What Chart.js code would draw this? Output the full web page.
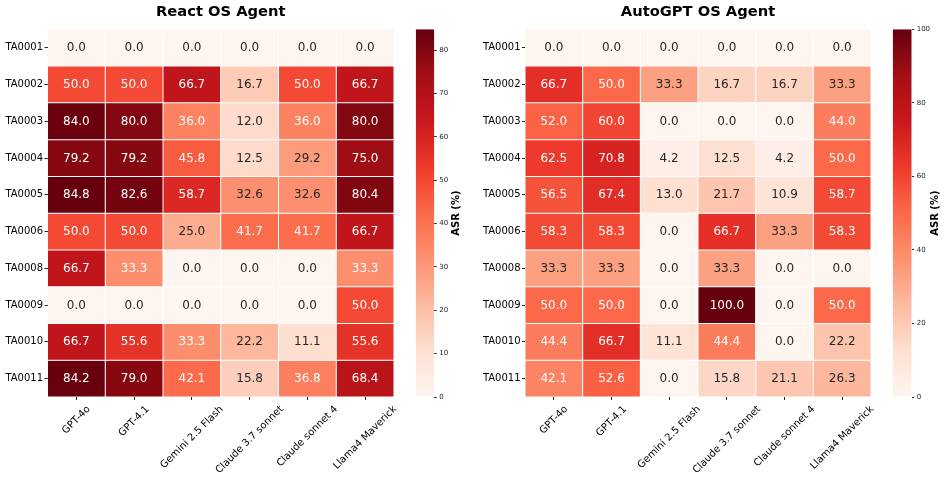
<!DOCTYPE html>
<html><head><meta charset="utf-8">
<script src="https://cdn.jsdelivr.net/npm/chart.js@4.4.1/dist/chart.umd.min.js"></script>
<style>
html,body{margin:0;padding:0;background:#fff;width:947px;height:479px;overflow:hidden;position:relative}
canvas{position:absolute;top:0}
</style></head><body>
<canvas id="h1" width="400" height="479" style="left:0;width:400px;height:479px"></canvas>
<canvas id="c1" width="70" height="479" style="left:405px;width:70px;height:479px"></canvas>
<canvas id="h2" width="405" height="479" style="left:470px;width:405px;height:479px"></canvas>
<canvas id="c2" width="67" height="479" style="left:880px;width:67px;height:479px"></canvas>
<script>
// ---------------- DATA ----------------
const models = ["GPT-4o", "GPT-4.1", "Gemini 2.5 Flash", "Claude 3.7 sonnet", "Claude sonnet 4", "Llama4 Maverick"];
const tactics = ["TA0001", "TA0002", "TA0003", "TA0004", "TA0005", "TA0006", "TA0008", "TA0009", "TA0010", "TA0011"];
const reactASR = [
  [0.0, 0.0, 0.0, 0.0, 0.0, 0.0],
  [50.0, 50.0, 66.7, 16.7, 50.0, 66.7],
  [84.0, 80.0, 36.0, 12.0, 36.0, 80.0],
  [79.2, 79.2, 45.8, 12.5, 29.2, 75.0],
  [84.8, 82.6, 58.7, 32.6, 32.6, 80.4],
  [50.0, 50.0, 25.0, 41.7, 41.7, 66.7],
  [66.7, 33.3, 0.0, 0.0, 0.0, 33.3],
  [0.0, 0.0, 0.0, 0.0, 0.0, 50.0],
  [66.7, 55.6, 33.3, 22.2, 11.1, 55.6],
  [84.2, 79.0, 42.1, 15.8, 36.8, 68.4]
];
const autogptASR = [
  [0.0, 0.0, 0.0, 0.0, 0.0, 0.0],
  [66.7, 50.0, 33.3, 16.7, 16.7, 33.3],
  [52.0, 60.0, 0.0, 0.0, 0.0, 44.0],
  [62.5, 70.8, 4.2, 12.5, 4.2, 50.0],
  [56.5, 67.4, 13.0, 21.7, 10.9, 58.7],
  [58.3, 58.3, 0.0, 66.7, 33.3, 58.3],
  [33.3, 33.3, 0.0, 33.3, 0.0, 0.0],
  [50.0, 50.0, 0.0, 100.0, 0.0, 50.0],
  [44.4, 66.7, 11.1, 44.4, 0.0, 22.2],
  [42.1, 52.6, 0.0, 15.8, 21.1, 26.3]
];
const reactMax = 84.8;
const autogptMax = 100;
const reactCbarTicks = [0, 10, 20, 30, 40, 50, 60, 70, 80];
const autogptCbarTicks = [0, 20, 40, 60, 80, 100];
const reactTitle = "React OS Agent";
const autogptTitle = "AutoGPT OS Agent";
const cbarLabel = "ASR (%)";

// ---------------- COLORMAP ----------------
const FONT = "'DejaVu Sans', sans-serif";
Chart.defaults.font.family = FONT;
const REDS = [[255,245,240],[254,224,210],[252,187,161],[252,146,114],[251,106,74],[239,59,44],[203,24,29],[165,15,21],[103,0,13]];
function reds(t) {
  t = Math.min(1, Math.max(0, t));
  const idx = Math.min(255, Math.floor(t * 256));
  const u = idx / 255 * 8;
  const i = Math.min(7, Math.floor(u));
  const f = u - i;
  return REDS[i].map((c, k) => c + (REDS[i + 1][k] - c) * f);
}
function rgb(c) { return `rgb(${Math.round(c[0])},${Math.round(c[1])},${Math.round(c[2])})`; }
function lum(c) {
  const l = c.map(v => { v /= 255; return v <= 0.03928 ? v / 12.92 : Math.pow((v + 0.055) / 1.055, 2.4); });
  return 0.2126 * l[0] + 0.7152 * l[1] + 0.0722 * l[2];
}

// ---------------- HEATMAP ----------------
function makeHeatmap(id, values, vmax, title, yWidth, padRight) {
  const cellText = {
    id: 'cellText',
    afterDatasetsDraw(chart) {
      const ctx = chart.ctx;
      ctx.save();
      ctx.font = "12px " + FONT;
      ctx.textAlign = 'center';
      ctx.textBaseline = 'middle';
      chart.data.datasets.forEach((ds, r) => {
        chart.getDatasetMeta(r).data.forEach((el, c) => {
          const v = values[r][c];
          ctx.fillStyle = lum(reds(v / vmax)) > 0.408 ? '#262626' : '#ffffff';
          ctx.fillText(v.toFixed(1), el.x, (el.y + el.base) / 2 + 0.5);
        });
      });
      ctx.restore();
    }
  };
  // x tick labels rotated 45deg, bbox centred on each tick (matplotlib style)
  const xLabels = {
    id: 'xLabels',
    afterDraw(chart) {
      const sc = chart.scales.x;
      const ctx = chart.ctx;
      ctx.save();
      ctx.font = "10px " + FONT;
      ctx.fillStyle = '#000';
      ctx.textAlign = 'right';
      ctx.textBaseline = 'middle';
      const h = 11.6, top = sc.top + 3 + 3.5;
      sc.ticks.forEach((t, i) => {
        const label = chart.data.labels[i];
        const w = ctx.measureText(label).width;
        const x = sc.getPixelForTick(i) + 0.3536 * w;
        const y = top + 0.3536 * h;
        ctx.save();
        ctx.translate(x, y);
        ctx.rotate(-Math.PI / 4);
        ctx.fillText(label, 0, 0);
        ctx.restore();
      });
      ctx.restore();
    }
  };
  new Chart(document.getElementById(id), {
    type: 'bar',
    data: {
      labels: models,
      datasets: tactics.map((t, r) => ({
        label: t,
        data: models.map(() => 1),
        backgroundColor: values[r].map(v => rgb(reds(v / vmax))),
        borderColor: 'rgba(255,255,255,0.85)',
        borderWidth: 0.5,
        borderSkipped: false,
        inflateAmount: 0,
        barPercentage: 1,
        categoryPercentage: 1
      }))
    },
    options: {
      responsive: false,
      animation: false,
      events: [],
      layout: { padding: { left: 0, right: padRight, top: 0, bottom: 0 } },
      plugins: {
        legend: { display: false },
        tooltip: { enabled: false },
        title: {
          display: true, text: title, fullSize: false, color: '#000',
          font: { size: 14.7, weight: 'bold', family: FONT, lineHeight: 1.2 },
          padding: { top: 3.5, bottom: 8.2 }
        }
      },
      scales: {
        x: {
          stacked: true,
          afterFit: ax => { ax.height = 82; },
          border: { display: false },
          grid: { offset: false, drawOnChartArea: false, drawTicks: true, tickLength: 3, tickColor: '#222' },
          ticks: { display: false, autoSkip: false }
        },
        y: {
          stacked: true, min: 0, max: tactics.length, reverse: true,
          afterFit: ax => { ax.width = yWidth; },
          afterBuildTicks: ax => { ax.ticks = tactics.map((t, i) => ({ value: i + 0.5 })); },
          border: { display: false },
          grid: { drawOnChartArea: false, drawTicks: true, tickLength: 3, tickColor: '#222' },
          ticks: {
            color: '#000', font: { size: 10 }, padding: 1.5, autoSkip: false,
            callback: v => tactics[Math.floor(v)]
          }
        }
      }
    },
    plugins: [cellText, xLabels]
  });
}

// ---------------- COLORBAR ----------------
function makeCbar(id, vmax, ticks, padLeft, axisWidth, labelX) {
  const label = {
    id: 'cbLabel',
    afterDraw(chart) {
      const ctx = chart.ctx;
      ctx.save();
      ctx.font = "bold 10px " + FONT;
      ctx.fillStyle = '#000';
      ctx.textAlign = 'center';
      ctx.textBaseline = 'middle';
      ctx.translate(labelX, (chart.chartArea.top + chart.chartArea.bottom) / 2);
      ctx.rotate(-Math.PI / 2);
      ctx.fillText(cbarLabel, 0, 0);
      ctx.restore();
    }
  };
  new Chart(document.getElementById(id), {
    type: 'bar',
    data: {
      labels: [''],
      datasets: [{
        data: [vmax],
        backgroundColor: ctx => {
          const ca = ctx.chart.chartArea;
          if (!ca) return '#fff';
          const g = ctx.chart.ctx.createLinearGradient(0, ca.bottom, 0, ca.top);
          for (let i = 0; i <= 64; i++) { const t = i / 64; g.addColorStop(t, rgb(reds(t))); }
          return g;
        },
        borderWidth: 0, inflateAmount: 0,
        barPercentage: 1, categoryPercentage: 1
      }]
    },
    options: {
      responsive: false,
      animation: false,
      events: [],
      layout: { padding: { left: padLeft, top: 29.3, bottom: 82, right: 0 } },
      plugins: { legend: { display: false }, tooltip: { enabled: false }, title: { display: false } },
      scales: {
        x: { display: false },
        y: {
          position: 'right', min: 0, max: vmax,
          afterBuildTicks: ax => { ax.ticks = ticks.map(v => ({ value: v })); },
          afterFit: ax => { ax.width = axisWidth; },
          border: { display: false },
          grid: { drawOnChartArea: false, drawTicks: true, tickLength: 2.5, tickColor: '#333' },
          ticks: { font: { size: 7 }, color: '#222', padding: 2.5, callback: v => String(v) }
        }
      }
    },
    plugins: [label]
  });
}

makeHeatmap('h1', reactASR, reactMax, reactTitle, 47.5, 6);
makeCbar('c1', reactMax, reactCbarTicks, 10.7, 40.7, 51);
makeHeatmap('h2', autogptASR, autogptMax, autogptTitle, 55, 4);
makeCbar('c2', autogptMax, autogptCbarTicks, 12.7, 35.3, 55);
</script>
</body></html>
